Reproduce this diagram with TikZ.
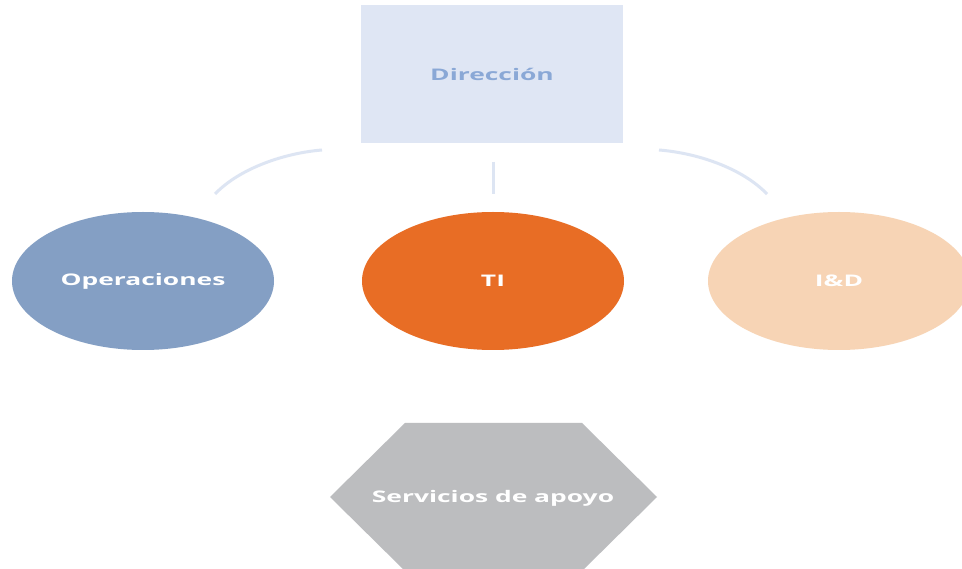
\documentclass[tikz,border=0pt]{standalone}
\usepackage{fontspec}
\setmainfont{Open Sans}
\usetikzlibrary{shapes.geometric}
\definecolor{dirfill}{HTML}{DFE6F4}
\definecolor{dirtext}{HTML}{8AA8D6}
\definecolor{opfill}{HTML}{849FC4}
\definecolor{tifill}{HTML}{E86D25}
\definecolor{idfill}{HTML}{F7D4B5}
\definecolor{sfill}{HTML}{BCBDBF}
\definecolor{linkcol}{HTML}{DDE5F3}
\newcommand{\widetext}[1]{\scalebox{1.65}[1]{\bfseries #1}}
\tikzset{
  unitbox/.style={rectangle, fill=dirfill, draw=none, minimum width=262pt, minimum height=138pt, inner sep=0pt},
  oval/.style={ellipse, draw=none, minimum width=262pt, minimum height=138pt, inner sep=0pt, text=white},
  link/.style={draw=linkcol, line width=3pt},
  lbl/.style={font=\fontsize{16}{18}\selectfont}
}
\begin{document}
\begin{tikzpicture}[x=1pt,y=-1pt]
\useasboundingbox (0,0) rectangle (962,569);
\clip (0,0) rectangle (962,569);
\fill[white] (0,0) rectangle (962,569);
% Direccion
\node[unitbox, lbl, text=dirtext] (dir) at (492,74) {\widetext{Dirección}};
% ellipses
\node[oval, lbl, fill=opfill] (op) at (143,281) {\widetext{Operaciones}};
\node[oval, lbl, fill=tifill] (ti) at (493,281) {\widetext{TI}};
\node[oval, lbl, fill=idfill] (id) at (839,281) {\widetext{I\&D}};
% hexagon
\fill[sfill] (405,423) -- (582,423) -- (657,497) -- (582,571) -- (405,571) -- (330,497) -- cycle;
\node[lbl, text=white] (sa) at (493,498) {\widetext{Servicios de apoyo}};
% connectors
\coordinate (la) at (215,194);
\coordinate (lb) at (322,150);
\coordinate (ma) at (493,162);
\coordinate (mb) at (493,194);
\coordinate (ra) at (659,150);
\coordinate (rb) at (767,194);
\draw[link] (la) .. controls (240,168) and (285,153) .. (lb);
\draw[link] (ma) -- (mb);
\draw[link] (ra) .. controls (697,153) and (742,168) .. (rb);
\end{tikzpicture}
\end{document}
